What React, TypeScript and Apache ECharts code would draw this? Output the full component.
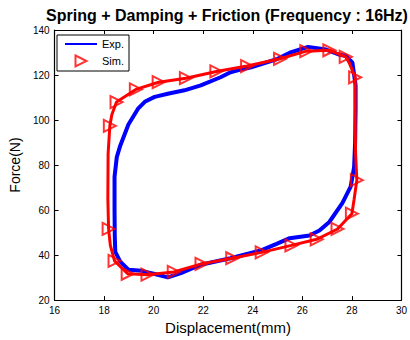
import React, { useEffect, useRef } from "react";
import * as echarts from "echarts";

const titleText = "Spring + Damping + Friction (Frequency : 16Hz)";
const xName = "Displacement(mm)";
const yName = "Force(N)";
const legendNames = ["Exp.", "Sim."];

// Experimental loop (displacement mm, force N)
const expX = [23.5, 23.1, 22.7, 21.9, 21.24, 20.57, 20.04, 19.64, 19.38, 18.98, 18.65, 18.51, 18.42, 18.42, 18.43, 18.45, 18.65, 18.98, 19.51, 20.04, 20.57, 21.1, 21.9, 23.1, 24.36, 24.96, 25.49, 26.29, 26.69, 27.09, 27.62, 27.95, 28.09, 28.13, 28.15, 28.15, 28.02, 27.75, 27.49, 26.96, 26.23, 25.49, 24.96, 23.9, 23.5];
const expY = [122.4, 121.2, 119.0, 115.4, 113.2, 111.7, 110.3, 108.1, 105.2, 98.0, 88.6, 83.5, 74.8, 60.0, 48.0, 41.4, 37.1, 33.5, 33.0, 31.6, 30.1, 32.0, 35.7, 38.6, 42.2, 45.0, 47.5, 48.7, 50.9, 54.7, 63.2, 70.4, 79.1, 90.0, 105.0, 115.4, 125.5, 128.6, 129.0, 131.3, 132.5, 129.9, 127.0, 123.3, 122.4];

// Simulated loop (line)
const simLineX = [18.18, 18.25, 18.42, 18.95, 19.75, 20.81, 21.93, 23.17, 24.36, 25.56, 26.58, 27.42, 28.0, 28.09, 28.2, 28.15, 28.13, 28.13, 27.89, 27.75, 27.09, 26.16, 25.1, 23.77, 22.53, 21.3, 20.2, 19.28, 18.5, 18.31, 18.23, 18.16, 18.15, 18.18];
const simLineY = [51.6, 44.3, 37.4, 31.7, 31.3, 32.5, 36.1, 38.6, 41.2, 44.3, 47.0, 51.6, 58.4, 64.8, 73.3, 85.0, 100.0, 119.0, 125.5, 128.1, 131.0, 130.6, 127.2, 124.0, 121.6, 118.6, 116.8, 113.6, 108.0, 102.3, 97.4, 85.0, 65.0, 51.6];

// Simulated markers
const simX = [18.18, 18.42, 18.95, 19.75, 20.81, 21.93, 23.17, 24.36, 25.56, 26.58, 27.42, 28.0, 28.2, 28.13, 27.75, 27.09, 26.16, 25.1, 23.77, 22.53, 21.3, 20.2, 19.28, 18.5, 18.23];
const simY = [51.6, 37.4, 31.7, 31.3, 32.5, 36.1, 38.6, 41.2, 44.3, 47.0, 51.6, 58.4, 73.3, 119.0, 128.1, 131.0, 130.6, 127.2, 124.0, 121.6, 118.6, 116.8, 113.6, 108.0, 97.4];

const xMin = 16, xMax = 30, xStep = 2;
const yMin = 20, yMax = 140, yStep = 20;

const FONT = "'Liberation Sans', Arial, Helvetica, sans-serif";
const RIGHT_TRIANGLE = "path://M0,0L10,5L0,10Z";

export default function App() {
  const ref = useRef<HTMLDivElement>(null);
  useEffect(() => {
    if (!ref.current) return;
    const chart = echarts.init(ref.current, null, { renderer: "svg" });
    const zip = (xs: number[], ys: number[]) => xs.map((x, i) => [x, ys[i]]);
    const axisCommon = {
      type: "value" as const,
      splitLine: { show: false },
      axisLine: { show: true, lineStyle: { color: "#000", width: 1.2 } },
      axisTick: { show: true, inside: true, length: 4, lineStyle: { color: "#000" } },
    };
    chart.setOption({
      animation: false,
      backgroundColor: "#fff",
      textStyle: { fontFamily: FONT },
      title: {
        text: titleText,
        left: 222,
        top: 2,
        textAlign: "center",
        textStyle: { fontSize: 16, fontWeight: "bold", color: "#000", fontFamily: FONT },
      },
      legend: {
        data: [
          { name: legendNames[0], itemStyle: { opacity: 0, color: "rgba(0,0,0,0)", borderWidth: 0 } },
          { name: legendNames[1], icon: RIGHT_TRIANGLE, symbolRotate: 0 },
        ],
        orient: "vertical",
        left: 57,
        top: 35,
        padding: [3.5, 5, 3.5, 7],
        itemGap: 5,
        itemWidth: 32,
        itemHeight: 11,
        symbolKeepAspect: true,
        borderColor: "#000",
        borderWidth: 1,
        borderRadius: 0,
        backgroundColor: "#fff",
        selectedMode: false,
        textStyle: { fontSize: 11, color: "#000", fontFamily: FONT },
      },
      grid: { left: 52, right: 7, top: 30, bottom: 34 },
      xAxis: [
        {
          ...axisCommon,
          position: "bottom",
          min: xMin,
          max: xMax,
          interval: xStep,
          name: xName,
          nameLocation: "middle",
          nameGap: 16,
          nameTextStyle: { fontSize: 15, color: "#000", fontFamily: FONT },
          axisLabel: { fontSize: 10, color: "#000", margin: 5, fontFamily: FONT },
        },
        {
          ...axisCommon,
          position: "top",
          min: xMin,
          max: xMax,
          interval: xStep,
          axisLabel: { show: false },
        },
      ],
      yAxis: [
        {
          ...axisCommon,
          position: "left",
          min: yMin,
          max: yMax,
          interval: yStep,
          name: yName,
          nameLocation: "middle",
          nameGap: 28,
          nameTextStyle: { fontSize: 14, color: "#000", fontFamily: FONT },
          axisLabel: { fontSize: 10, color: "#000", margin: 5, fontFamily: FONT },
        },
        {
          ...axisCommon,
          position: "right",
          min: yMin,
          max: yMax,
          interval: yStep,
          axisLabel: { show: false },
        },
      ],
      series: [
        {
          name: "Exp.",
          type: "line",
          data: zip(expX, expY),
          symbol: "none",
          lineStyle: { color: "#0000ff", width: 4 },
          itemStyle: { color: "#0000ff" },
          z: 2,
        },
        {
          name: "SimLine",
          type: "line",
          data: zip(simLineX, simLineY),
          symbol: "none",
          lineStyle: { color: "#ff0000", width: 3 },
          itemStyle: { color: "#ff0000" },
          z: 3,
        },
        {
          name: "Sim.",
          type: "scatter",
          data: zip(simX, simY),
          symbol: "triangle",
          symbolSize: 12,
          symbolRotate: -90,
          itemStyle: { color: "rgba(255,255,255,0)", borderColor: "#ff0000", borderWidth: 2 },
          z: 4,
        },
      ],
    });
    return () => chart.dispose();
  }, []);
  return <div ref={ref} style={{ width: 410, height: 340, position: "absolute", left: 0, top: 0 }} />;
}
